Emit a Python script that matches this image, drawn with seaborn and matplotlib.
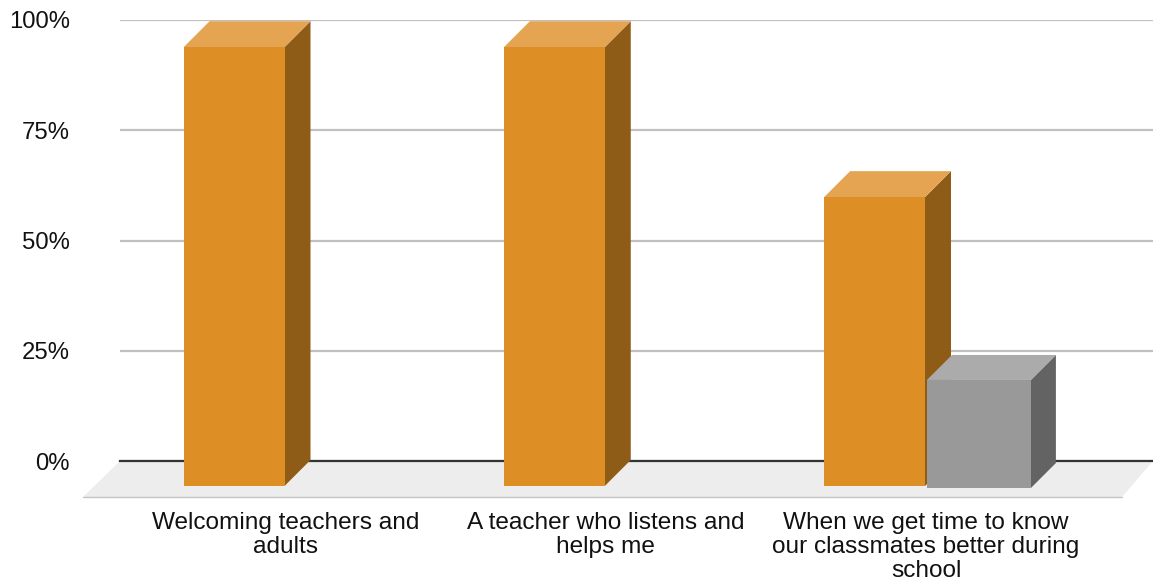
import matplotlib
matplotlib.use("Agg")
import matplotlib.pyplot as plt
from matplotlib.patches import Polygon
from matplotlib.transforms import ScaledTranslation
import pandas as pd
import seaborn as sns

# values
categories = ["Welcoming teachers and\nadults",
              "A teacher who listens and\nhelps me",
              "When we get time to know\nour classmates better during\nschool"]
series_a = [99.5, 99.5, 65.5]
series_b = [0, 0, 24.5]
y_ticks = [0, 25, 50, 75, 100]
y_tick_labels = ["0%", "25%", "50%", "75%", "100%"]

front_colors = ["#dd8f26", "#999999"]
side_colors = ["#8f5c17", "#636363"]
top_colors = ["#e5a452", "#ababab"]

W, H = 1153, 583
sns.set_theme(style="white")
plt.rcParams["font.family"] = ["Liberation Sans", "DejaVu Sans"]

df = pd.DataFrame({
    "category": categories * 2,
    "value": series_a + series_b,
    "series": ["a"] * 3 + ["b"] * 3,
})

fig = plt.figure(figsize=(W / 100, H / 100), dpi=100)
# axes = the back wall of the fake 3D box
ax = fig.add_axes([120 / W, (H - 461) / H, (W - 120) / W, 441 / H])
ax.set_zorder(2)

sns.barplot(data=df, x="category", y="value", hue="series", palette=front_colors,
            saturation=1, width=0.63, gap=0, legend=False, edgecolor="none", ax=ax)

cat_px = 320.25
ax.set_xlim(-190.5 / cat_px, (W - 310.5) / cat_px)
ax.set_ylim(0, 100)
px_y = 441 / 100


def shift(dx, dy):
    return ScaledTranslation(dx / 100, dy / 100, fig.dpi_scale_trans)


# floor, in pixels below the back wall
left_px = ax.transAxes.transform((0, 0))
right_px = ax.transAxes.transform((1, 0))
floor = Polygon([left_px, right_px, right_px + (-31, -36), left_px + (-37, -36)], closed=True,
                facecolor="#ededed", edgecolor="none", transform=None, zorder=1)
fig.add_artist(floor)
fig.add_artist(plt.Line2D([left_px[0] - 37, right_px[0] - 31], [left_px[1] - 36] * 2,
                          transform=None, color="#c4c4c4", lw=1.0, zorder=1))

# 3D faces on every bar that has a height
depth_x = 26 / cat_px
depth_y = 26 / px_y
for i, bar in enumerate(ax.patches):
    s = i // 3
    if bar.get_height() == 0:
        bar.set_visible(False)
        continue
    off = shift(-26, -25)
    depth_yy = depth_y
    depth_xx = depth_x
    if s == 1:
        # the grey block sits a touch lower and wider in the source
        bar.set_width(bar.get_width() * 1.03)
        off = shift(-24, -27)
        depth_xx = 25 / cat_px
        depth_yy = 25 / px_y
    trans = ax.transData + off
    x0, x1 = bar.get_x(), bar.get_x() + bar.get_width()
    h = bar.get_height()
    bar.set_transform(trans)
    bar.set_clip_on(False)
    bar.set_zorder(4 + s * 2)
    side = Polygon([(x1, 0), (x1, h), (x1 + depth_xx, h + depth_yy), (x1 + depth_xx, depth_yy)],
                   closed=True, facecolor=side_colors[s], edgecolor="none",
                   transform=trans, clip_on=False, zorder=3 + s * 2)
    top = Polygon([(x0, h), (x1, h), (x1 + depth_xx, h + depth_yy), (x0 + depth_xx, h + depth_yy)],
                  closed=True, facecolor=top_colors[s], edgecolor="none",
                  transform=trans, clip_on=False, zorder=3 + s * 2)
    ax.add_patch(side)
    ax.add_patch(top)

ax.set_xlabel("")
ax.set_ylabel("")
ax.set_yticks(y_ticks)
ax.set_yticklabels(y_tick_labels)
ax.yaxis.grid(True, color="#c0c0c0", linewidth=1.6, zorder=0)
ax.set_axisbelow(True)
sns.despine(ax=ax, left=True, top=True, right=True, bottom=False)
ax.spines["bottom"].set_color("#333333")
ax.spines["bottom"].set_linewidth(1.6)
ax.spines["bottom"].set_zorder(2)
ax.patch.set_alpha(0)

ax.tick_params(axis="y", length=0, pad=36, labelsize=17.2, labelcolor="#111111")
ax.tick_params(axis="x", length=0, pad=36.5, labelsize=17.6, labelcolor="#111111")
for label in ax.get_xticklabels():
    label.set_transform(label.get_transform() + shift(-25, 0))
    label.set_linespacing(1.14)

fig.savefig("out.png", dpi=100)
